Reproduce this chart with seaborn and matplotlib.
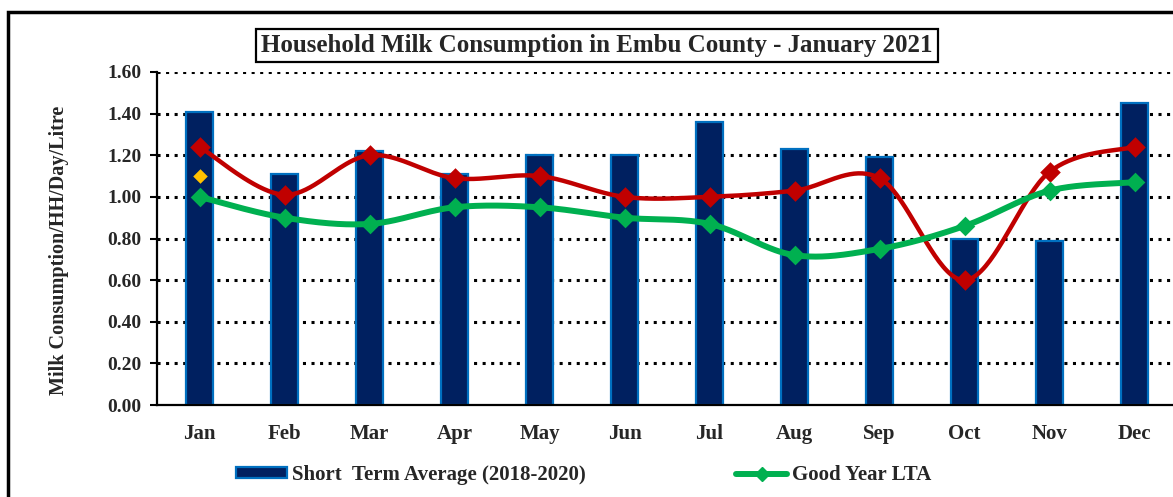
import numpy as np
import pandas as pd
import matplotlib
matplotlib.use("Agg")
import matplotlib.pyplot as plt
import seaborn as sns
from matplotlib.patches import Patch, Rectangle
from matplotlib.lines import Line2D

# Monthly household milk consumption (litres per household per day)
months = ["Jan", "Feb", "Mar", "Apr", "May", "Jun",
          "Jul", "Aug", "Sep", "Oct", "Nov", "Dec"]
short_term_avg = [1.41, 1.11, 1.22, 1.11, 1.20, 1.20, 1.36, 1.23, 1.19, 0.80, 0.79, 1.45]
previous_year = [1.24, 1.01, 1.20, 1.09, 1.10, 1.00, 1.00, 1.03, 1.09, 0.60, 1.12, 1.24]
good_year_lta = [1.00, 0.90, 0.87, 0.95, 0.95, 0.90, 0.87, 0.72, 0.75, 0.86, 1.03, 1.07]
current_year = [1.10]

y_ticks = [0.0, 0.2, 0.4, 0.6, 0.8, 1.0, 1.2, 1.4, 1.6]

NAVY = "#002060"
BAR_EDGE = "#0070C0"
RED = "#C00000"
GREEN = "#00B050"
GOLD = "#FFC000"


def smooth_curve(values, steps=40):
    """Cardinal (Catmull-Rom style) smoothing used for the line series."""
    pts = np.column_stack([np.arange(len(values), dtype=float), np.asarray(values, float)])
    out = []
    for i in range(len(pts) - 1):
        p0 = pts[i - 1] if i > 0 else pts[i]
        p1, p2 = pts[i], pts[i + 1]
        p3 = pts[i + 2] if i + 2 < len(pts) else pts[i + 1]
        c1 = p1 + (p2 - p0) / 6.0
        c2 = p2 - (p3 - p1) / 6.0
        t = np.linspace(0, 1, steps, endpoint=(i == len(pts) - 2))[:, None]
        seg = ((1 - t) ** 3) * p1 + 3 * ((1 - t) ** 2) * t * c1 + 3 * (1 - t) * t ** 2 * c2 + t ** 3 * p2
        out.append(seg)
    out = np.vstack(out)
    return pd.DataFrame({"x": out[:, 0], "y": out[:, 1]})


sns.set_theme(style="white")
plt.rcParams["font.family"] = ["Liberation Serif", "DejaVu Serif"]
plt.rcParams["font.weight"] = "bold"

W, H = 1173, 497
fig = plt.figure(figsize=(W / 100, H / 100), dpi=100)
ax = fig.add_axes([157 / W, 1 - 405 / H, (1177 - 157) / W, (405 - 72) / H])

bars = pd.DataFrame({"month": months, "value": short_term_avg})
sns.barplot(data=bars, x="month", y="value", ax=ax, width=0.32, color=NAVY,
            saturation=1, edgecolor=BAR_EDGE, linewidth=1.6, zorder=3)

xpos = np.arange(len(months))

red_curve = smooth_curve(previous_year)
sns.lineplot(data=red_curve, x="x", y="y", ax=ax, color=RED, linewidth=3.2,
             sort=False, estimator=None, zorder=4)
sns.scatterplot(x=xpos, y=previous_year, ax=ax, marker="D", s=110, color=RED,
                edgecolor=RED, linewidth=0, zorder=5)

green_curve = smooth_curve(good_year_lta)
sns.lineplot(data=green_curve, x="x", y="y", ax=ax, color=GREEN, linewidth=4.3,
             sort=False, estimator=None, zorder=4)
sns.scatterplot(x=xpos, y=good_year_lta, ax=ax, marker="D", s=100, color=GREEN,
                edgecolor=GREEN, linewidth=0, zorder=5)

sns.scatterplot(x=xpos[:len(current_year)], y=current_year, ax=ax, marker="D", s=55,
                color=GOLD, edgecolor=GOLD, linewidth=0, zorder=5)

ax.set_xlim(-0.5, 11.5)
ax.set_ylim(0, 1.6)
ax.set_yticks(y_ticks)
ax.set_yticklabels([f"{v:.2f}" for v in y_ticks], fontsize=14, fontweight="bold")
ax.set_xticks(xpos)
ax.set_xticklabels(months, fontsize=15, fontweight="bold")
ax.set_xticks(np.arange(-0.5, 12.0, 1.0), minor=True)
ax.tick_params(axis="x", which="major", length=0, pad=14)
ax.tick_params(axis="x", which="minor", length=6, width=1.5, color="black", direction="out")
ax.tick_params(axis="y", length=5, width=1.5, color="black", direction="out", pad=6, left=True)
ax.set_xlabel("")
ax.set_ylabel("")

for v in y_ticks[1:]:
    ax.axhline(v, color="black", linestyle=(0, (1, 1.8)), linewidth=2.2, zorder=1)

for side in ["top", "right"]:
    ax.spines[side].set_visible(False)
ax.spines["left"].set_color("black")
ax.spines["left"].set_linewidth(1.6)
ax.spines["bottom"].set_color("black")
ax.spines["bottom"].set_linewidth(1.6)
ax.spines["left"].set_zorder(6)
ax.spines["bottom"].set_zorder(6)

fig.text(59 / W, 1 - 250 / H, "Milk Consumption/HH/Day/Litre", rotation=90,
         ha="center", va="center", fontsize=14.5, fontweight="bold")

fig.text(597 / W, 1 - 46 / H, "Household Milk Consumption in Embu County - January 2021",
         ha="center", va="center", fontsize=18, fontweight="bold",
         bbox=dict(boxstyle="square,pad=0.2", facecolor="white", edgecolor="black", linewidth=1.6))

handles = [
    Patch(facecolor=NAVY, edgecolor=BAR_EDGE, linewidth=1.6),
    Line2D([0], [0], color=GREEN, linewidth=4.3, marker="D", markersize=7),
]
labels = ["Short  Term Average (2018-2020)", "Good Year LTA"]
fig.legend(handles, labels, ncol=2, loc="center", bbox_to_anchor=(584 / W, 1 - 475 / H),
           frameon=False, prop=dict(family="Liberation Serif", weight="bold", size=15),
           handlelength=2.45, handleheight=0.4, handletextpad=0.25, columnspacing=7.2)

# Outer chart-area frame
fig.add_artist(Rectangle((8 / W, -0.2), 1.2, 1 - 12 / H + 0.2, transform=fig.transFigure,
                         fill=False, edgecolor="black", linewidth=2.5))

fig.savefig("out.png", dpi=100, facecolor="white")
